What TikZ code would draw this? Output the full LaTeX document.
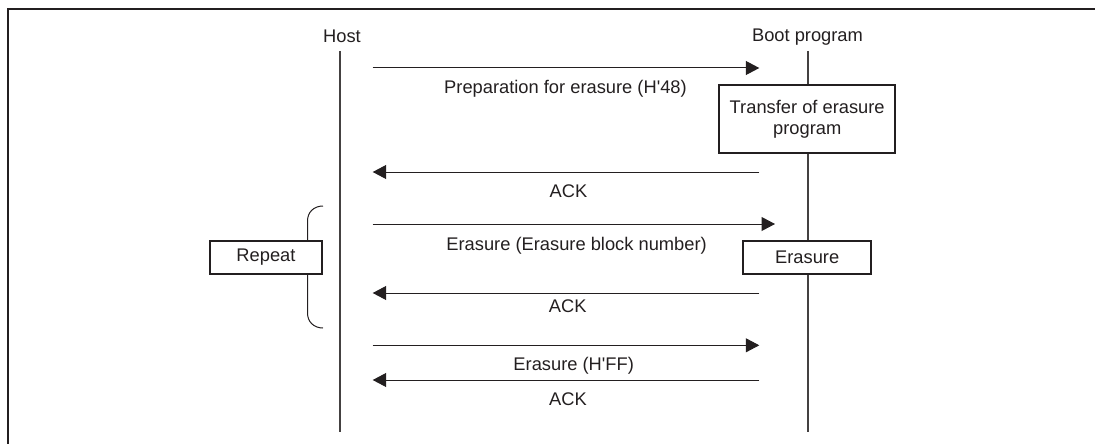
\documentclass[tikz,border=0pt]{standalone}
\usepackage{fontspec}
\setmainfont{Liberation Sans}[Ligatures=TeXOff]
\usetikzlibrary{arrows.meta}
\definecolor{ink}{RGB}{35,31,32}
\begin{document}
\begin{tikzpicture}[x=1pt,y=-1pt,
  every node/.style={font=\fontsize{18.3pt}{21.5pt}\selectfont, text=ink, inner sep=0pt},
  txt/.style={anchor=base},
  lifeline/.style={draw=ink!85, line width=1.3pt},
  msg/.style={draw=ink, line width=1pt, -{Triangle[length=13.5pt,width=14pt]}},
  procbox/.style={draw=ink, line width=2.2pt, fill=white, align=center},
  brace/.style={draw=ink, line width=1pt}
]
\useasboundingbox (0,0) rectangle (1095,444);
% frame
\draw[ink, line width=2.5pt] (8,444) -- (8,9) -- (1095,9);

% lifelines
\coordinate (hostTop) at (340,51);
\coordinate (hostBot) at (340,432);
\coordinate (bootTop) at (808,51);
\coordinate (bootBot) at (808,432);
\draw[lifeline] (hostTop) -- (hostBot);
\draw[lifeline] (bootTop) -- (bootBot);

\node[txt] (host) at (342,42.3) {Host};
\node[txt] (boot) at (807.5,41.7) {Boot program};

% repeat bracket
\coordinate (brT) at (323,206);
\coordinate (brB) at (323,328);
\draw[brace] (brT) .. controls (314,206) and (307.5,212) .. (307.5,221)
  -- (307.5,313) .. controls (307.5,322) and (314,328) .. (brB);

% boxes
\node[procbox, minimum width=175.7pt, minimum height=67.7pt] (transfer) at (807.2,119.2)
  {Transfer of erasure\\program};
\node[procbox, minimum width=127.7pt, minimum height=32.7pt] (erasebox) at (807.2,257.7) {Erasure};
\node[procbox, minimum width=111.4pt, minimum height=33pt] (repeat) at (266,257.5) {Repeat};

% message endpoints
\coordinate (h1) at (372.7,68);   \coordinate (b1) at (759.3,68);
\coordinate (b2) at (759.3,172);  \coordinate (h2) at (372.7,172);
\coordinate (h3) at (372.7,224);  \coordinate (b3) at (775,224);
\coordinate (b4) at (759.3,293);  \coordinate (h4) at (372.7,293);
\coordinate (h5) at (372.7,345.3);\coordinate (b5) at (759.3,345.3);
\coordinate (b6) at (759.3,380);  \coordinate (h6) at (372.7,380);

\draw[msg] (h1) -- (b1);
\draw[msg] (b2) -- (h2);
\draw[msg] (h3) -- (b3);
\draw[msg] (b4) -- (h4);
\draw[msg] (h5) -- (b5);
\draw[msg] (b6) -- (h6);

% labels
\node[txt] (l1) at (565.5,93.3) {Preparation for erasure (H'48)};
\node[txt] (l2) at (568.5,197) {ACK};
\node[txt] (l3) at (576.6,250) {Erasure (Erasure block number)};
\node[txt] (l4) at (567.7,312.3) {ACK};
\node[txt] (l5) at (573.7,370.7) {Erasure (H'FF)};
\node[txt] (l6) at (568,405) {ACK};
\end{tikzpicture}
\end{document}
